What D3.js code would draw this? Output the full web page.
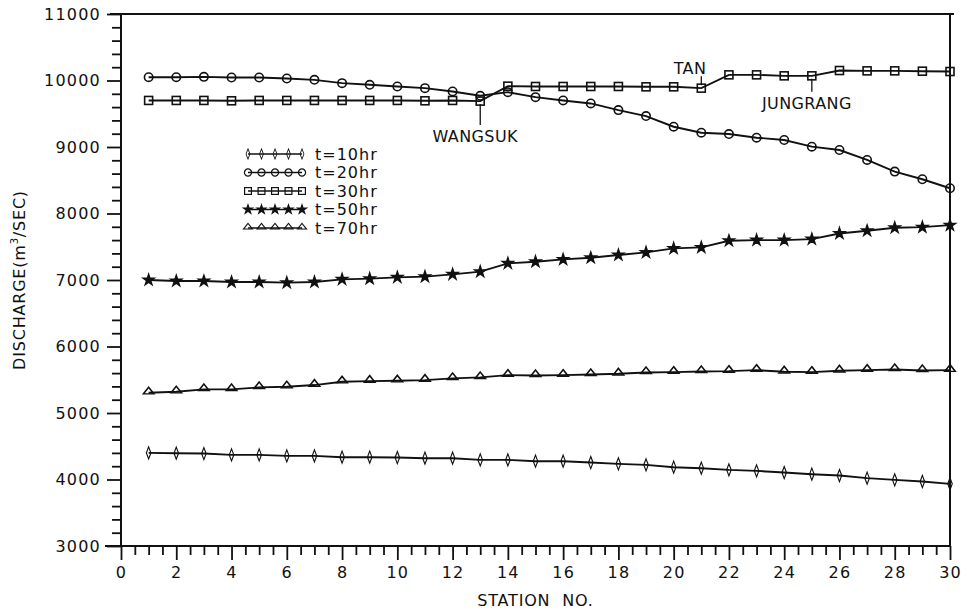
<!DOCTYPE html>
<html>
<head>
<meta charset="utf-8">
<script src="https://cdn.jsdelivr.net/npm/d3@7"></script>
<style>
  body { margin: 0; background: #fff; }
  svg { display: block; }
  text { font-family: "DejaVu Sans", sans-serif; fill: #111; }
</style>
</head>
<body>
<svg id="chart"></svg>
<script>
// station numbers along the river
const stations = [1, 2, 3, 4, 5, 6, 7, 8, 9, 10, 11, 12, 13, 14, 15,
                  16, 17, 18, 19, 20, 21, 22, 23, 24, 25, 26, 27, 28, 29, 30];

// discharge (m3/sec) at each station
const t10 = [4400, 4395, 4390, 4370, 4370, 4355, 4355, 4335, 4335, 4330, 4320, 4320, 4295, 4295, 4275,
             4275, 4255, 4235, 4220, 4185, 4170, 4145, 4130, 4105, 4080, 4060, 4020, 3995, 3970, 3935];
const t20 = [10050, 10050, 10055, 10045, 10045, 10030, 10010, 9960, 9935, 9910, 9885, 9835, 9770, 9825, 9750,
             9700, 9655, 9555, 9465, 9305, 9215, 9195, 9140, 9105, 9005, 8955, 8805, 8630, 8515, 8380];
const t30 = [9700, 9700, 9700, 9695, 9700, 9700, 9700, 9700, 9700, 9700, 9695, 9700, 9690, 9915, 9910,
             9910, 9910, 9910, 9905, 9905, 9885, 10085, 10085, 10070, 10070, 10150, 10145, 10145, 10140, 10135];
const t50 = [7000, 6985, 6985, 6970, 6970, 6960, 6970, 7010, 7020, 7040, 7050, 7085, 7125, 7250, 7275,
             7310, 7335, 7375, 7415, 7475, 7490, 7590, 7600, 7600, 7615, 7700, 7740, 7785, 7795, 7825];
const t70 = [5305, 5320, 5355, 5355, 5385, 5395, 5420, 5470, 5480, 5485, 5495, 5520, 5535, 5570, 5565,
             5570, 5580, 5590, 5610, 5615, 5625, 5630, 5645, 5620, 5615, 5635, 5645, 5655, 5640, 5645];

const seriesNames = ["t=10hr", "t=20hr", "t=30hr", "t=50hr", "t=70hr"];
const seriesMarkers = ["diamond", "circle", "square", "star", "triangle"];

const yTicks = [3000, 4000, 5000, 6000, 7000, 8000, 9000, 10000, 11000];
const xTicks = [0, 2, 4, 6, 8, 10, 12, 14, 16, 18, 20, 22, 24, 26, 28, 30];

// gauging stations marked on the t=30hr curve
const notes = ["WANGSUK", "TAN", "JUNGRANG"];
const noteStations = [13, 21, 25];

const width = 968, height = 612;
const marginLeft = 121, marginRight = 18, marginTop = 14, marginBottom = 66;

const svg = d3.select("#chart")
    .attr("width", width)
    .attr("height", height)
    .attr("viewBox", [0, 0, width, height]);

const x = d3.scaleLinear([0, 30], [marginLeft, width - marginRight]);
const y = d3.scaleLinear([3000, 11000], [height - marginBottom, marginTop]);

// frame
const frame = svg.append("g").attr("stroke", "#111").attr("stroke-width", 2).attr("fill", "none");
frame.append("line").attr("x1", x(0)).attr("x2", x(0)).attr("y1", y(11000)).attr("y2", y(3000));
frame.append("line").attr("x1", x(0) - 16).attr("x2", x(30)).attr("y1", y(3000)).attr("y2", y(3000));
frame.append("line").attr("x1", x(0) - 11).attr("x2", x(30) + 4).attr("y1", y(11000)).attr("y2", y(11000));
frame.append("line").attr("x1", x(30)).attr("x2", x(30)).attr("y1", y(11000)).attr("y2", y(3000));

const tickStyle = g => {
  g.select(".domain").remove();
  g.selectAll(".tick line").attr("stroke", "#111").attr("stroke-width", 1.8);
  g.selectAll(".tick text")
      .attr("font-size", 16)
      .attr("letter-spacing", 1.2)
      .attr("fill", "#111");
};

// y axis, majors + minor ticks every 200
svg.append("g")
    .attr("transform", `translate(${marginLeft},0)`)
    .call(d3.axisLeft(y).tickValues(d3.range(3200, 11000, 200).filter(v => v % 1000)).tickSize(9).tickFormat(""))
    .call(tickStyle);
svg.append("g")
    .attr("transform", `translate(${marginLeft},0)`)
    .call(d3.axisLeft(y).tickValues(yTicks).tickSize(14).tickPadding(6).tickFormat(d3.format("d")))
    .call(tickStyle);

// x axis, majors + minor ticks every 0.5
svg.append("g")
    .attr("transform", `translate(0,${height - marginBottom})`)
    .call(d3.axisBottom(x).tickValues(d3.range(0.5, 30, 0.5).filter(v => v % 2)).tickSize(9).tickFormat(""))
    .call(tickStyle);
svg.append("g")
    .attr("transform", `translate(0,${height - marginBottom})`)
    .call(d3.axisBottom(x).tickValues(xTicks).tickSize(14).tickPadding(7))
    .call(tickStyle);

// axis titles
svg.append("text")
    .attr("x", (x(0) + x(30)) / 2)
    .attr("y", height - 6)
    .attr("text-anchor", "middle")
    .attr("font-size", 16)
    .attr("letter-spacing", 0.8)
    .attr("word-spacing", 6)
    .text("STATION NO.");

const yTitle = svg.append("text")
    .attr("transform", `translate(25,${(y(3000) + y(11000)) / 2}) rotate(-90)`)
    .attr("text-anchor", "middle")
    .attr("font-size", 16)
    .attr("letter-spacing", 0.8);
yTitle.append("tspan").text("DISCHARGE(m");
yTitle.append("tspan").attr("font-size", 10).attr("dy", -7).text("3");
yTitle.append("tspan").attr("dy", 7).text("/SEC)");

// marker shapes
function marker(sel, kind) {
  if (kind === "circle") {
    sel.append("circle").attr("r", 4.2).attr("fill", "none");
  } else if (kind === "square") {
    sel.append("rect").attr("x", -4).attr("y", -4).attr("width", 8).attr("height", 8).attr("fill", "none");
  } else if (kind === "diamond") {
    sel.append("path").attr("d", d3.symbol(d3.symbolDiamond, 42)()).attr("transform", "scale(0.65,1)").attr("fill", "none");
  } else if (kind === "star") {
    sel.append("path").attr("d", d3.symbol(d3.symbolStar, 34)()).attr("fill", "#111");
  } else if (kind === "triangle") {
    sel.append("path").attr("d", d3.symbol(d3.symbolTriangle, 40)()).attr("transform", "translate(0,-1) scale(1.1,0.8)").attr("fill", "none");
  }
}

const allSeries = [t10, t20, t30, t50, t70];
const line = d3.line().x((d, i) => x(stations[i])).y(d => y(d));

allSeries.forEach((values, k) => {
  const g = svg.append("g");
  g.append("path")
      .attr("d", line(values))
      .attr("fill", "none")
      .attr("stroke", "#111")
      .attr("stroke-width", 1.9);
  g.selectAll("g.pt")
    .data(values)
    .join("g")
      .attr("class", "pt")
      .attr("transform", (d, i) => `translate(${x(stations[i])},${y(d)})`)
      .attr("stroke", "#111")
      .attr("stroke-width", 1.6)
      .each(function () { marker(d3.select(this), seriesMarkers[k]); });
});

// station annotations on the t=30hr curve
notes.forEach((name, k) => {
  const i = stations.indexOf(noteStations[k]);
  const px = x(stations[i]), py = y(t30[i]);
  const g = svg.append("g").attr("font-size", 16).attr("letter-spacing", 0.4);
  if (name === "TAN") {
    g.append("line").attr("x1", px).attr("x2", px).attr("y1", py - 3).attr("y2", py - 12)
        .attr("stroke", "#111").attr("stroke-width", 1.3);
    g.append("text").attr("x", px + 5).attr("y", py - 14).attr("text-anchor", "end").text(name);
  } else {
    const len = name === "WANGSUK" ? 24 : 16;
    g.append("line").attr("x1", px).attr("x2", px).attr("y1", py + 3).attr("y2", py + len)
        .attr("stroke", "#111").attr("stroke-width", 1.3);
    g.append("text").attr("x", px - 5).attr("y", py + len + 17).attr("text-anchor", "middle").text(name);
  }
});

// legend
const legend = svg.append("g").attr("transform", "translate(248,154)");
seriesNames.forEach((name, k) => {
  const row = legend.append("g").attr("transform", `translate(0,${k * 18.5})`);
  const lx = d3.scaleLinear([0, 4], [0, 54]);
  row.append("line").attr("x1", lx(0)).attr("x2", lx(4))
      .attr("stroke", "#111").attr("stroke-width", 1.5);
  row.selectAll("g")
    .data([0, 1, 2, 3, 4])
    .join("g")
      .attr("transform", d => `translate(${lx(d)},0) scale(0.85)`)
      .attr("stroke", "#111")
      .attr("stroke-width", 1.4)
      .each(function () { marker(d3.select(this), seriesMarkers[k]); });
  row.append("text")
      .attr("x", 67)
      .attr("dy", "0.36em")
      .attr("font-size", 16)
      .attr("letter-spacing", 1)
      .text(name);
});
</script>
</body>
</html>
